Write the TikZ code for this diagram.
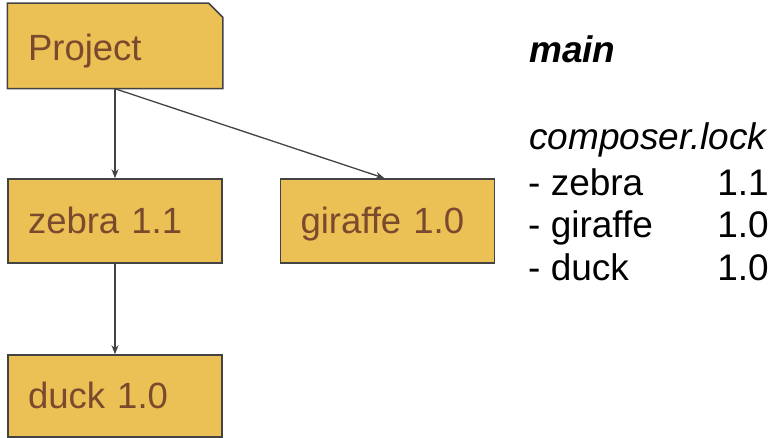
\documentclass[tikz,border=0pt]{standalone}
\usepackage{fontspec}
\setmainfont{Liberation Sans}
\usetikzlibrary{arrows.meta,backgrounds}
\definecolor{boxfill}{HTML}{EBC055}
\definecolor{boxline}{HTML}{434343}
\definecolor{boxtext}{HTML}{7A4A2E}
\tikzset{
  pkg/.style={draw=boxline, line width=1.5pt, fill=boxfill, text=boxtext,
    minimum width=214pt, minimum height=84pt, text width=174pt, inner xsep=20pt,
    align=left, font=\fontsize{36.5}{43}\selectfont, text height=26pt, text depth=-6pt},
  conn/.style={draw=boxline, line width=1.3pt, -{Stealth[length=9pt,width=7pt]}},
  txt/.style={anchor=base west, inner sep=0pt, font=\fontsize{37}{43}\selectfont},
  num/.style={anchor=base east, inner sep=0pt, font=\fontsize{37}{43}\selectfont}
}
\begin{document}
\begin{tikzpicture}[x=1pt,y=-1pt]
\useasboundingbox (0,0) rectangle (777,438);
% Project box with cut corner
\node[pkg, draw=none, fill=none, text height=29pt, text depth=-9pt] (p) at (115,46) {Project};
\begin{scope}[on background layer]
\path[fill=boxfill, draw=boxline, line width=1.5pt]
  (p.south west) -- (p.north west) -- ([xshift=-14pt]p.north east)
  -- ([yshift=-14pt]p.north east) -- (p.south east) -- cycle;
\end{scope}
\node[pkg] (z) at (115,221) {zebra 1.1};
\node[pkg] (g) at (387.5,221) {giraffe 1.0};
\node[pkg, minimum height=82pt] (d) at (115,396) {duck 1.0};
\draw[conn] (p.south) -- (z.north);
\draw[conn] (p.south) -- ([xshift=-3pt]g.north);
\draw[conn] (z.south) -- (d.north);
% right-hand text
\node[txt, font=\fontsize{37}{43}\selectfont\bfseries\itshape] (mn) at (529,63) {main};
\node[txt, font=\fontsize{37}{43}\selectfont\itshape] (cl) at (529,150) {composer.lock};
\node[txt] (l1) at (528,196) {- zebra};
\node[txt] (l2) at (528,238) {- giraffe};
\node[txt] (l3) at (528,281) {- duck};
\node[num] (n1) at (769,196) {1.1};
\node[num] (n2) at (769,238) {1.0};
\node[num] (n3) at (769,281) {1.0};
\end{tikzpicture}
\end{document}
